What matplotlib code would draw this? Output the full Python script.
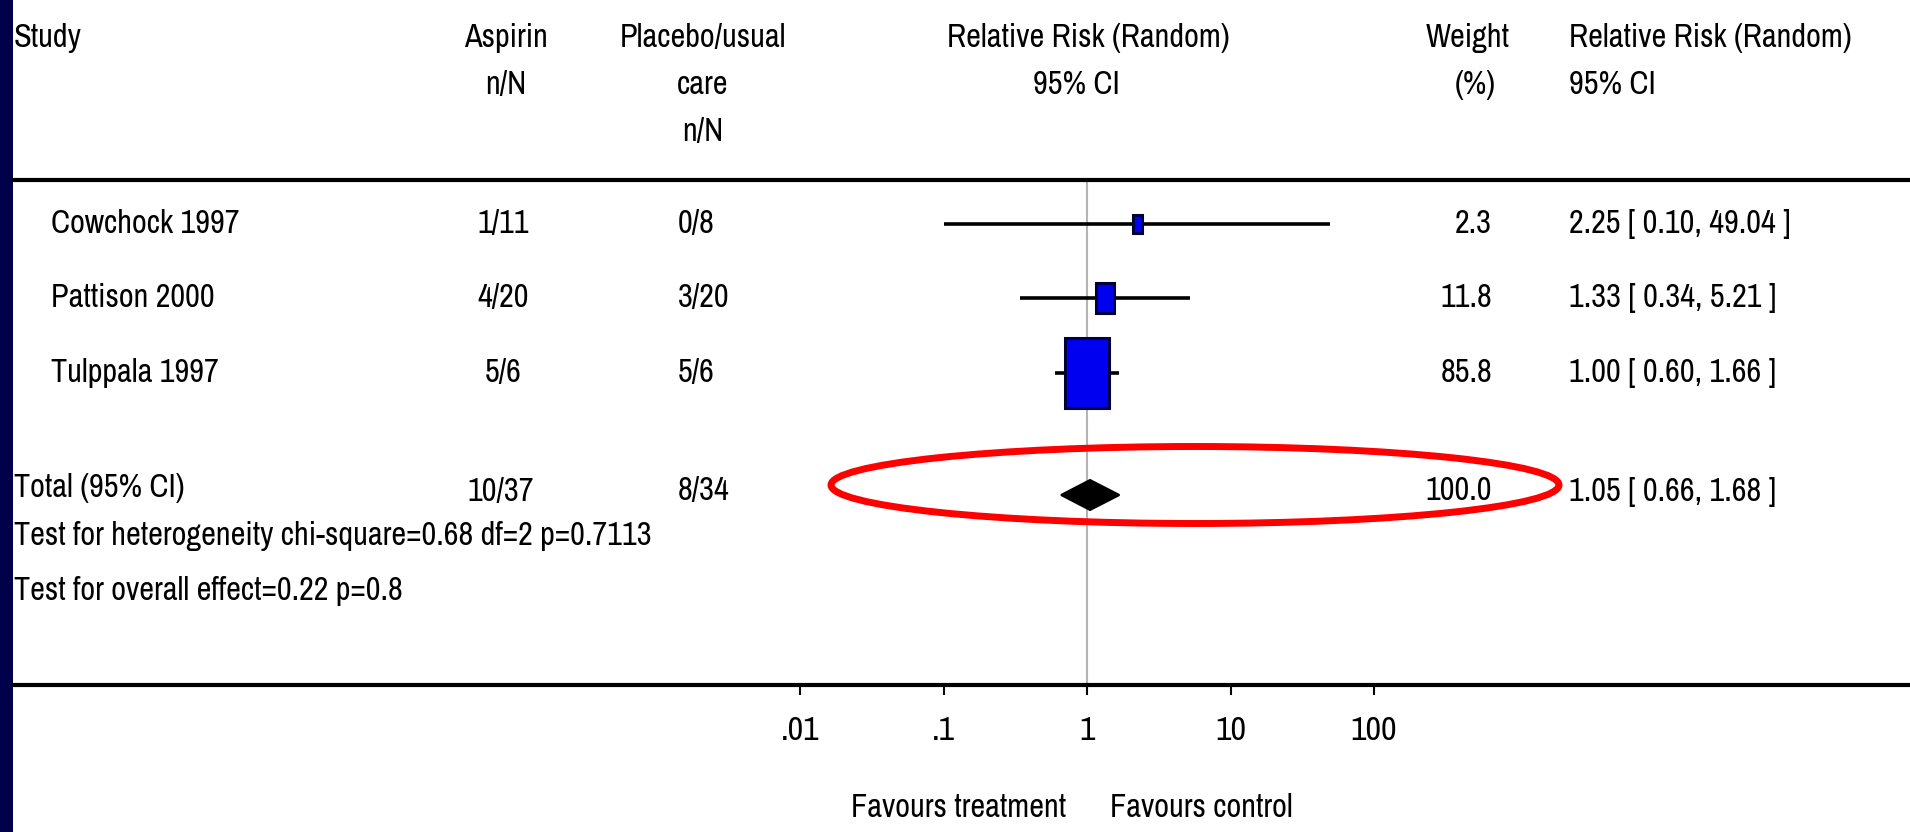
import matplotlib
matplotlib.use("Agg")
import matplotlib.pyplot as plt
from matplotlib import font_manager
from matplotlib.patches import Ellipse, Rectangle, Polygon
from matplotlib.ticker import FixedLocator, FixedFormatter, NullLocator
import numpy as np

# --- data ---
studies = ["Cowchock 1997", "Pattison 2000", "Tulppala 1997"]
aspirin_nN = ["1/11", "4/20", "5/6"]
placebo_nN = ["0/8", "3/20", "5/6"]
rr = [2.25, 1.33, 1.00]
rr_lo = [0.10, 0.34, 0.60]
rr_hi = [49.04, 5.21, 1.66]
weight = [2.3, 11.8, 85.8]

total_label = "Total (95% CI)"
total_aspirin = "10/37"
total_placebo = "8/34"
total_rr, total_lo, total_hi = 1.05, 0.66, 1.68
total_weight = 100.0

heterogeneity = "Test for heterogeneity chi-square=0.68 df=2 p=0.7113"
overall = "Test for overall effect=0.22 p=0.8"

tick_values = [0.01, 0.1, 1, 10, 100]
tick_labels = [".01", ".1", "1", "10", "100"]

# --- layout (pixels, figure is 1910 x 832) ---
W, H = 1910, 832
ROW_Y = [224, 298, 373]
TOTAL_Y = 491
AXIS_TOP, AXIS_BOTTOM = 180, 685
FOREST_X0, FOREST_X1 = 800, 1374  # .01 .. 100


def pick_font():
    # the reference uses a tall, narrow screen font: prefer a condensed face
    fonts = font_manager.fontManager.ttflist
    for f in fonts:
        if "Narrow" in f.name or "Condensed" in f.name:
            return f.name, "normal"
    for f in fonts:
        if f.name == "DejaVu Sans" and "condensed" in str(f.stretch):
            return "DejaVu Sans", "condensed"
    return "Roboto", "normal"


FONT, STRETCH = pick_font()
plt.rcParams["font.family"] = [FONT, "DejaVu Sans"]
plt.rcParams["font.stretch"] = STRETCH

fig = plt.figure(figsize=(W / 100, H / 100), dpi=100)

# fit font size so the long footnote spans the same width as in the reference
probe = fig.text(0, 0, heterogeneity, fontsize=20)
probe_w = probe.get_window_extent(fig.canvas.get_renderer()).width
probe.remove()
FS = 20 * 637 / probe_w

# forest panel with log scale; y axis in pixel rows
ax = fig.add_axes([FOREST_X0 / W, (H - AXIS_BOTTOM) / H,
                   (FOREST_X1 - FOREST_X0) / W, (AXIS_BOTTOM - AXIS_TOP) / H])
ax.set_xscale("log")
ax.set_xlim(tick_values[0], tick_values[-1])
ax.set_ylim(AXIS_BOTTOM, AXIS_TOP)
ax.patch.set_alpha(0)
for s in ax.spines.values():
    s.set_visible(False)
ax.yaxis.set_visible(False)
ax.xaxis.set_major_locator(FixedLocator(tick_values))
ax.xaxis.set_major_formatter(FixedFormatter(tick_labels))
ax.xaxis.set_minor_locator(NullLocator())
ax.tick_params(axis="x", direction="out", length=7.5, width=1.5, pad=15,
               labelsize=FS * 1.05, colors="black")

ax.axvline(1, color="#b4b4b4", lw=1.5, zorder=1)

# boxes scale with sqrt(weight)
px_per_decade = (FOREST_X1 - FOREST_X0) / np.log10(tick_values[-1] / tick_values[0])
for y, r, lo, hi, w in zip(ROW_Y, rr, rr_lo, rr_hi, weight):
    ax.plot([lo, hi], [y, y], color="black", lw=2.6, solid_capstyle="butt", zorder=2)
    half_w = (2.3 * np.sqrt(w) + 1) / px_per_decade
    half_h = 3.3 * np.sqrt(w) + 4
    ax.add_patch(Rectangle((r * 10 ** -half_w, y - half_h),
                           r * 10 ** half_w - r * 10 ** -half_w, 2 * half_h,
                           facecolor="#0000f0", edgecolor="#00003c", lw=2.2, zorder=3))

dy = 15
ax.add_patch(Polygon([(total_lo, TOTAL_Y + 4), (total_rr, TOTAL_Y + 4 - dy),
                      (total_hi, TOTAL_Y + 4), (total_rr, TOTAL_Y + 4 + dy)],
                     closed=True, facecolor="black", edgecolor="black", lw=1.5, zorder=3))

# overlay in pixel coordinates: text, rules, highlight
bg = fig.add_axes([0, 0, 1, 1])
bg.set_xlim(0, W)
bg.set_ylim(H, 0)
bg.axis("off")
bg.set_zorder(2)
bg.patch.set_alpha(0)

bg.add_patch(Rectangle((0, 0), 13, H, facecolor="#00004a", edgecolor="none"))
bg.plot([13, W], [AXIS_TOP, AXIS_TOP], color="black", lw=3)
bg.plot([13, W], [AXIS_BOTTOM, AXIS_BOTTOM], color="black", lw=3)


def txt(x, y, s, ha="left"):
    bg.text(x, y, s, ha=ha, va="center", fontsize=FS, color="black")


# header
txt(14, 38, "Study")
txt(506, 38, "Aspirin", "center")
txt(506, 85, "n/N", "center")
txt(703, 38, "Placebo/usual", "center")
txt(703, 85, "care", "center")
txt(703, 132, "n/N", "center")
txt(1088, 38, "Relative Risk (Random)", "center")
txt(1076, 85, "95% CI", "center")
txt(1468, 38, "Weight", "center")
txt(1475, 85, "(%)", "center")
txt(1569, 38, "Relative Risk (Random)")
txt(1569, 85, "95% CI")

# study rows
for y, name, a, p, r, lo, hi, w in zip(ROW_Y, studies, aspirin_nN, placebo_nN,
                                       rr, rr_lo, rr_hi, weight):
    txt(51, y, name)
    txt(503, y, a, "center")
    txt(678, y, p)
    txt(1492, y, f"{w:.1f}", "right")
    txt(1569, y, f"{r:.2f} [ {lo:.2f}, {hi:.2f} ]")

# total row
txt(14, TOTAL_Y - 3, total_label)
txt(501, TOTAL_Y + 1, total_aspirin, "center")
txt(678, TOTAL_Y, total_placebo)
txt(1492, TOTAL_Y, f"{total_weight:.1f}", "right")
txt(1569, TOTAL_Y + 1, f"{total_rr:.2f} [ {total_lo:.2f}, {total_hi:.2f} ]")
txt(14, 536, heterogeneity)
txt(14, 591, overall)

txt(1066, 808, "Favours treatment", "right")
txt(1110, 808, "Favours control")

bg.add_patch(Ellipse((1195, 485), 728, 77, facecolor="none",
                     edgecolor="#ff0000", lw=5))

fig.savefig("out.png", dpi=100)
